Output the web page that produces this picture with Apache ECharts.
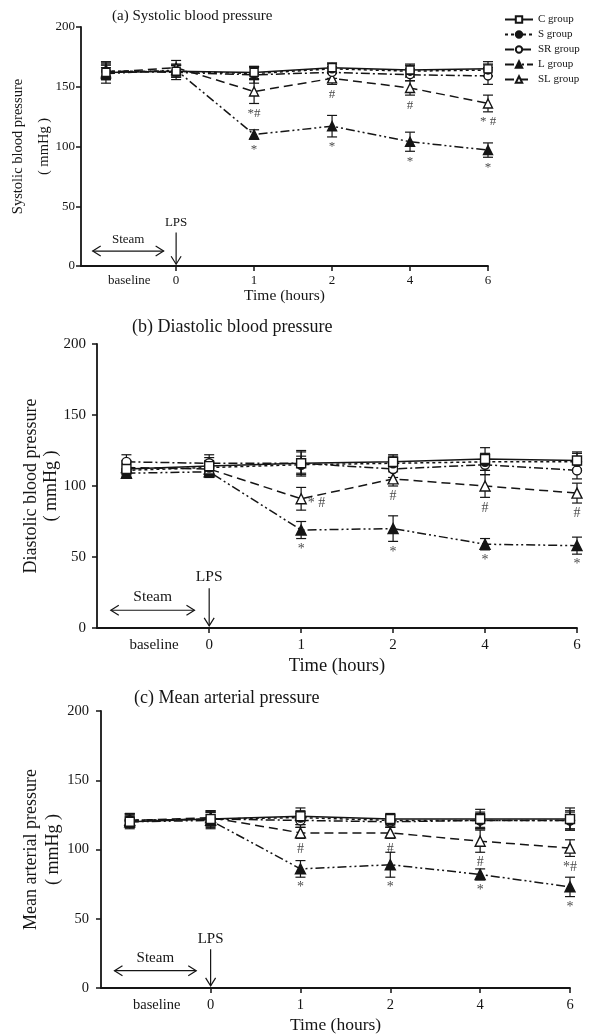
<!DOCTYPE html>
<html>
<head>
<meta charset="utf-8">
<script src="https://cdn.jsdelivr.net/npm/echarts@6/dist/echarts.min.js"></script>
<style>
  html, body { margin: 0; padding: 0; background: #ffffff; }
  #chart { width: 589px; height: 1034px; }
</style>
</head>
<body>
<div id="chart"></div>
<script>
// Time points and groups
const timeLabels = ['baseline', '0', '1', '2', '4', '6'];
const groupNames = ['C group', 'S group', 'SR group', 'L group', 'SL group'];

// (a) Systolic blood pressure, mmHg (mean and SD)
const sbpC  = [162, 163, 162, 166, 164, 165];
const sbpS  = [163, 163, 161, 165, 163, 164];
const sbpSR = [163, 162, 160, 162, 160, 159];
const sbpL  = [161, 164, 110, 117, 104, 97];
const sbpSL = [162, 166, 146, 157, 149, 136];
const sbpErrC  = [6, 5, 5, 4, 5, 6];
const sbpErrS  = [6, 5, 5, 4, 5, 5];
const sbpErrSR = [7, 6, 7, 5, 5, 7];
const sbpErrL  = [5, 5, 4, 9, 8, 6];
const sbpErrSL = [9, 6, 10, 5, 6, 7];
const sbpMarksL  = ['', '', '*', '*', '*', '*'];
const sbpMarksSL = ['', '', '*#', '#', '#', '* #'];

// (b) Diastolic blood pressure, mmHg
const dbpC  = [112, 114, 116, 117, 119, 118];
const dbpS  = [111, 113, 115, 116, 117, 117];
const dbpSR = [117, 116, 116, 112, 115, 111];
const dbpL  = [109, 110, 69, 70, 59, 58];
const dbpSL = [113, 112, 91, 105, 100, 95];
const dbpErrC  = [5, 6, 8, 5, 8, 6];
const dbpErrS  = [5, 5, 6, 5, 6, 6];
const dbpErrSR = [5, 6, 9, 6, 7, 6];
const dbpErrL  = [3, 4, 6, 9, 4, 6];
const dbpErrSL = [5, 5, 8, 5, 8, 7];
const dbpMarksL  = ['', '', '*', '*', '*', '*'];
const dbpMarksSL = ['', '', '* #', '#', '#', '#'];

// (c) Mean arterial pressure, mmHg
const mapC  = [120, 122, 124, 122, 122, 122];
const mapS  = [121, 122, 123, 121, 121, 121];
const mapSR = [121, 122, 121, 120, 121, 121];
const mapL  = [120, 121, 86, 89, 82, 73];
const mapSL = [121, 123, 112, 112, 106, 101];
const mapErrC  = [5, 5, 6, 4, 7, 8];
const mapErrS  = [5, 5, 5, 4, 5, 6];
const mapErrSR = [5, 6, 5, 4, 6, 7];
const mapErrL  = [4, 6, 6, 9, 4, 7];
const mapErrSL = [4, 5, 4, 4, 8, 6];
const mapMarksL  = ['', '', '*', '*', '*', '*'];
const mapMarksSL = ['', '', '#', '#', '#', '*#'];

const FONT = '"Liberation Serif", "Times New Roman", serif';
const INK = '#151515';

// Position of each time point on the hours axis: the sampling points are
// evenly spaced, with the baseline reading placed before the LPS injection.
const slotOf = i => (i === 0 ? -0.9 : i - 1);
const labelOf = v => (v < -0.1 ? 'baseline' : timeLabels[Math.round(v) + 1]);

// Steam exposure and LPS injection cues (hours-axis units, mmHg)
const steamSpan = [-1.07, -0.16];
const steamLevel = 12.5;
const lpsTop = 28;
const lpsTip = 1.5;

// Line and marker styles per group
const groupStyle = [
  { symbol: 'rect',     fill: '#ffffff', dash: 'solid' },
  { symbol: 'circle',   fill: INK,       dash: [3, 3] },
  { symbol: 'circle',   fill: '#ffffff', dash: [9, 3, 2, 3] },
  { symbol: 'triangle', fill: INK,       dash: [9, 3, 2, 3, 2, 3] },
  { symbol: 'triangle', fill: '#ffffff', dash: [9, 5] }
];

const panels = [
  {
    title: '(a) Systolic blood pressure',
    yName: 'Systolic blood pressure\n( mmHg )',
    values: [sbpC, sbpS, sbpSR, sbpL, sbpSL],
    errors: [sbpErrC, sbpErrS, sbpErrSR, sbpErrL, sbpErrSL],
    marks: { 3: sbpMarksL, 4: sbpMarksSL },
    sideMarks: [],
    grid: { left: 81, top: 27, width: 407, height: 239 },
    titlePos: { left: 112, top: 9 },
    fs: { title: 15, yname: 14.5, tick: 13, xname: 15.5, cue: 13, mark: 13 },
    nameGap: 24, nameLineHeight: 26, xNameGap: 22, yMargin: 6, xMargin: 8, symbolSize: 8
  },
  {
    title: '(b) Diastolic blood pressure',
    yName: 'Diastolic blood pressure\n( mmHg )',
    values: [dbpC, dbpS, dbpSR, dbpL, dbpSL],
    errors: [dbpErrC, dbpErrS, dbpErrSR, dbpErrL, dbpErrSL],
    marks: { 3: dbpMarksL, 4: dbpMarksSL },
    sideMarks: ['4:2'],
    grid: { left: 97, top: 344, width: 480, height: 284 },
    titlePos: { left: 132, top: 318 },
    fs: { title: 18, yname: 18, tick: 15, xname: 18.5, cue: 15.5, mark: 14 },
    nameGap: 36, nameLineHeight: 20, xNameGap: 29, yMargin: 11, xMargin: 10, symbolSize: 9
  },
  {
    title: '(c) Mean arterial pressure',
    yName: 'Mean arterial pressure\n( mmHg )',
    values: [mapC, mapS, mapSR, mapL, mapSL],
    errors: [mapErrC, mapErrS, mapErrSR, mapErrL, mapErrSL],
    marks: { 3: mapMarksL, 4: mapMarksSL },
    sideMarks: [],
    grid: { left: 101, top: 711, width: 469, height: 277 },
    titlePos: { left: 134, top: 689 },
    fs: { title: 18, yname: 18, tick: 14.5, xname: 17.5, cue: 15, mark: 14 },
    nameGap: 37, nameLineHeight: 22, xNameGap: 28, yMargin: 12, xMargin: 10, symbolSize: 9
  }
];

function errorBarItem(capHalf) {
  return function (params, api) {
    const x = api.value(0), y = api.value(1), e = api.value(2);
    const top = api.coord([x, y + e]);
    const bot = api.coord([x, y - e]);
    const style = { stroke: INK, lineWidth: 1.2, fill: null };
    return {
      type: 'group',
      children: [
        { type: 'line', shape: { x1: top[0], y1: top[1], x2: bot[0], y2: bot[1] }, style },
        { type: 'line', shape: { x1: top[0] - capHalf, y1: top[1], x2: top[0] + capHalf, y2: top[1] }, style },
        { type: 'line', shape: { x1: bot[0] - capHalf, y1: bot[1], x2: bot[0] + capHalf, y2: bot[1] }, style }
      ]
    };
  };
}

function cueItem(fontSize) {
  return function (params, api) {
    const a = api.coord([steamSpan[0], steamLevel]);
    const b = api.coord([steamSpan[1], steamLevel]);
    const t = api.coord([0, lpsTop]);
    const tip = api.coord([0, lpsTip]);
    const w = 8, h = 5;
    const st = { stroke: INK, lineWidth: 1.2, fill: null };
    const txt = { fill: INK, fontFamily: FONT, fontSize: fontSize, align: 'center', verticalAlign: 'bottom' };
    return {
      type: 'group',
      children: [
        { type: 'line', shape: { x1: a[0], y1: a[1], x2: b[0], y2: b[1] }, style: st },
        { type: 'polyline', shape: { points: [[a[0] + w, a[1] - h], [a[0], a[1]], [a[0] + w, a[1] + h]] }, style: st },
        { type: 'polyline', shape: { points: [[b[0] - w, b[1] - h], [b[0], b[1]], [b[0] - w, b[1] + h]] }, style: st },
        { type: 'text', x: (a[0] + b[0]) / 2, y: a[1] - 5, style: Object.assign({ text: 'Steam' }, txt) },
        { type: 'line', shape: { x1: t[0], y1: t[1], x2: tip[0], y2: tip[1] }, style: st },
        { type: 'polyline', shape: { points: [[tip[0] - h, tip[1] - w], [tip[0], tip[1]], [tip[0] + h, tip[1] - w]] }, style: st },
        { type: 'text', x: t[0], y: t[1] - 3, style: Object.assign({ text: 'LPS' }, txt) }
      ]
    };
  };
}

const grids = [], xAxes = [], yAxes = [], titles = [], series = [];

panels.forEach((p, k) => {
  grids.push(Object.assign({ containLabel: false, outerBoundsMode: 'none' }, p.grid));
  titles.push({
    text: p.title, left: p.titlePos.left, top: p.titlePos.top, padding: 0,
    textStyle: { fontFamily: FONT, fontSize: p.fs.title, fontWeight: 'normal', color: INK }
  });
  xAxes.push({
    type: 'value', gridIndex: k, min: -1.22, max: 4,
    name: 'Time (hours)', nameLocation: 'middle', nameGap: p.xNameGap, nameMoveOverlap: false,
    nameTextStyle: { fontFamily: FONT, fontSize: p.fs.xname, color: INK },
    axisLine: { onZero: false, lineStyle: { color: INK, width: 1.8 } },
    axisTick: { show: true, customValues: [0, 1, 2, 3, 4], length: 5, inside: false, lineStyle: { color: INK, width: 1.5 } },
    axisLabel: {
      customValues: [-0.6, 0, 1, 2, 3, 4], formatter: labelOf, margin: p.xMargin,
      fontFamily: FONT, fontSize: p.fs.tick, color: INK
    },
    splitLine: { show: false }
  });
  yAxes.push({
    type: 'value', gridIndex: k, min: 0, max: 200, interval: 50,
    name: p.yName, nameLocation: 'middle', nameRotate: 90, nameGap: p.nameGap, nameMoveOverlap: false,
    nameTextStyle: { fontFamily: FONT, fontSize: p.fs.yname, color: INK, lineHeight: p.nameLineHeight, align: 'center' },
    axisLine: { show: true, onZero: false, lineStyle: { color: INK, width: 1.8 } },
    axisTick: { show: true, length: 5, lineStyle: { color: INK, width: 1.5 } },
    axisLabel: { margin: p.yMargin, fontFamily: FONT, fontSize: p.fs.tick, color: INK },
    splitLine: { show: false }
  });

  // error bars first so markers sit on top of them
  p.values.forEach((vals, g) => {
    series.push({
      type: 'custom', xAxisIndex: k, yAxisIndex: k, silent: true, z: 2,
      renderItem: errorBarItem(5),
      encode: { x: 0, y: 1 },
      data: vals.map((v, i) => [slotOf(i), v, p.errors[g][i]])
    });
  });

  // group lines, drawn back to front
  [3, 4, 2, 1, 0].forEach(g => {
    const s = groupStyle[g];
    series.push({
      type: 'line', name: groupNames[g], xAxisIndex: k, yAxisIndex: k, z: 3,
      symbol: s.symbol, symbolSize: s.symbol === 'triangle' ? p.symbolSize + 1 : p.symbolSize,
      showAllSymbol: true, animation: false,
      lineStyle: { color: INK, width: 1.5, type: s.dash },
      itemStyle: { color: s.fill, borderColor: INK, borderWidth: 1.4 },
      emphasis: { disabled: true },
      data: p.values[g].map((v, i) => [slotOf(i), v])
    });
  });

  // significance marks under the error bars
  const notes = [];
  Object.keys(p.marks).forEach(gk => {
    const g = Number(gk);
    p.marks[g].forEach((m, i) => {
      if (!m) return;
      const side = p.sideMarks.indexOf(g + ':' + i) >= 0;
      if (side) {
        notes.push({ value: [slotOf(i), p.values[g][i] - 3, m], label: { position: 'right', distance: 6 } });
      } else {
        notes.push({ value: [slotOf(i), p.values[g][i] - p.errors[g][i], m] });
      }
    });
  });
  series.push({
    type: 'scatter', xAxisIndex: k, yAxisIndex: k, silent: true, z: 4,
    symbolSize: 1, itemStyle: { color: 'rgba(0,0,0,0)' },
    label: {
      show: true, position: 'bottom', distance: 3,
      formatter: d => d.value[2],
      fontFamily: FONT, fontSize: p.fs.mark, color: INK
    },
    data: notes
  });

  // Steam / LPS cues
  series.push({
    type: 'custom', xAxisIndex: k, yAxisIndex: k, silent: true, z: 4,
    renderItem: cueItem(p.fs.cue),
    data: [[0, 0]]
  });
});

const chart = echarts.init(document.getElementById('chart'), null, { renderer: 'canvas' });
chart.setOption({
  backgroundColor: '#ffffff',
  animation: false,
  title: titles,
  grid: grids,
  xAxis: xAxes,
  yAxis: yAxes,
  legend: {
    data: groupNames, orient: 'vertical', left: 504, top: 14, padding: 0,
    itemWidth: 28, itemHeight: 8, itemGap: 4, selectedMode: false,
    textStyle: { fontFamily: FONT, fontSize: 11, color: INK }
  },
  series: series
});
</script>
</body>
</html>
